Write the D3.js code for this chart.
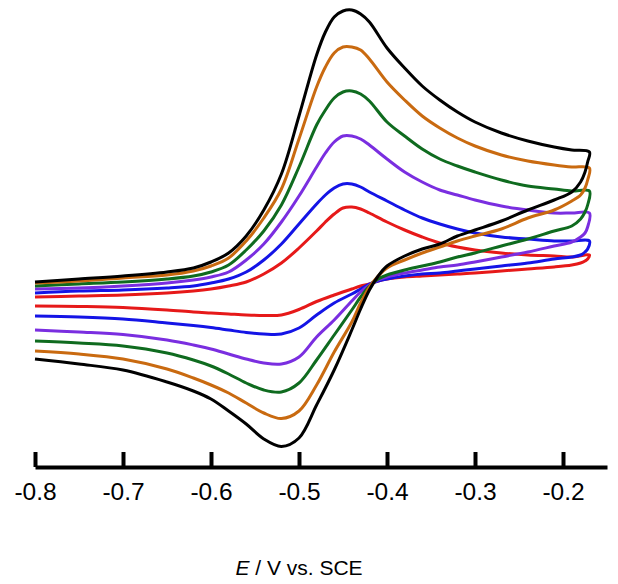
<!DOCTYPE html>
<html>
<head>
<meta charset="utf-8">
<script src="https://cdn.jsdelivr.net/npm/d3@7"></script>
<style>
  body { margin: 0; background: #fff; }
  svg { display: block; }
  .tick text { font-family: "Liberation Sans", Arial, sans-serif; }
</style>
</head>
<body>
<div id="chart"></div>
<script>
// cyclic voltammograms, six scan rates (no current axis shown)

var svgWidth = 618;
var svgHeight = 584;

// potential grid, forward scan (V vs SCE)
var eForward = [-0.80, -0.75, -0.70, -0.65, -0.62, -0.60, -0.58, -0.56, -0.54, -0.52,
  -0.50, -0.48, -0.47, -0.46, -0.45, -0.44, -0.43, -0.42, -0.40, -0.38,
  -0.36, -0.34, -0.32, -0.30, -0.27, -0.24, -0.21, -0.19, -0.17];

// potential grid, reverse scan
var eReverse = [-0.172, -0.175, -0.18, -0.19, -0.21, -0.24, -0.27, -0.30, -0.32, -0.34,
  -0.36, -0.38, -0.40, -0.41, -0.42, -0.43, -0.44, -0.46, -0.48, -0.50,
  -0.52, -0.54, -0.56, -0.58, -0.60, -0.62, -0.65, -0.70, -0.75, -0.80];

// currents (arbitrary units), forward scan
var redFwd = [-1.0, -0.9, -0.8, -0.6, -0.4, -0.2, 0.1, 0.5, 1.3, 2.4, 3.9, 5.6, 6.5, 7.3, 7.9, 8.0, 7.8, 7.4, 6.5, 5.7, 5.0, 4.4, 4.0, 3.7, 3.4, 3.2, 3.1, 3.0, 3.2];
var blueFwd = [-0.6, -0.4, -0.3, -0.1, 0.1, 0.4, 0.8, 1.5, 2.7, 4.3, 6.3, 8.3, 9.2, 9.9, 10.3, 10.3, 10.0, 9.5, 8.6, 7.7, 6.9, 6.3, 5.8, 5.4, 5.0, 4.8, 4.6, 4.6, 4.6];
var purpleFwd = [-0.2, -0.1, 0.1, 0.4, 0.7, 1.0, 1.5, 2.7, 4.3, 6.5, 9.1, 12.0, 13.4, 14.5, 15.1, 15.1, 14.8, 14.2, 12.8, 11.5, 10.5, 9.7, 9.2, 8.7, 8.1, 7.7, 7.4, 7.4, 7.4];
var greenFwd = [0.1, 0.3, 0.5, 0.8, 1.1, 1.5, 2.2, 3.7, 5.6, 8.2, 12.0, 16.2, 17.7, 18.9, 19.5, 19.6, 19.3, 18.6, 16.5, 15.1, 13.8, 12.8, 12.1, 11.5, 10.7, 10.1, 9.8, 9.6, 9.6];
var orangeFwd = [0.4, 0.6, 0.9, 1.2, 1.6, 2.1, 2.9, 4.6, 6.9, 9.8, 14.8, 20.0, 22.0, 23.4, 24.0, 24.0, 23.7, 22.8, 20.5, 18.7, 17.1, 15.9, 14.9, 14.1, 13.2, 12.6, 12.2, 12.0, 11.9];
var blackFwd = [0.5, 0.8, 1.1, 1.5, 1.9, 2.5, 3.4, 5.1, 7.7, 11.3, 17.1, 23.2, 25.5, 27.0, 27.6, 27.7, 27.3, 26.5, 23.9, 21.9, 20.1, 18.7, 17.5, 16.5, 15.4, 14.6, 14.0, 13.7, 13.5];

// currents, reverse scan
var redRev = [2.8, 2.6, 2.4, 2.2, 2.0, 1.8, 1.6, 1.4, 1.3, 1.2, 1.1, 1.0, 0.8, 0.6, 0.3, 0.1, -0.2, -0.8, -1.45, -2.25, -2.8, -2.85, -2.8, -2.7, -2.6, -2.5, -2.3, -2.05, -1.95, -1.9];
var blueRev = [3.8, 3.5, 3.2, 3.0, 2.8, 2.4, 2.1, 1.8, 1.6, 1.4, 1.3, 1.1, 0.8, 0.6, 0.3, -0.2, -0.7, -1.6, -2.8, -4.1, -4.7, -4.7, -4.55, -4.3, -4.05, -3.85, -3.6, -3.2, -3.0, -2.9];
var purpleRev = [6.0, 5.4, 5.0, 4.5, 4.1, 3.5, 3.0, 2.5, 2.2, 2.0, 1.7, 1.4, 1.0, 0.7, 0.2, -0.5, -1.4, -3.3, -5.0, -7.0, -7.7, -7.6, -7.2, -6.7, -6.2, -5.8, -5.3, -4.75, -4.5, -4.3];
var greenRev = [8.2, 7.5, 6.8, 6.1, 5.6, 4.8, 4.1, 3.4, 3.0, 2.5, 2.1, 1.7, 1.2, 0.8, 0.1, -1.0, -2.3, -4.8, -7.3, -9.6, -10.5, -10.3, -9.6, -8.7, -7.9, -7.3, -6.6, -5.9, -5.6, -5.4];
var orangeRev = [10.7, 9.9, 9.2, 8.6, 7.7, 6.9, 5.8, 5.1, 4.6, 4.0, 3.4, 2.7, 1.9, 1.1, 0.0, -1.6, -3.5, -6.5, -9.8, -12.4, -13.15, -12.6, -11.6, -10.6, -9.8, -9.1, -8.2, -7.2, -6.7, -6.4];
var blackRev = [12.5, 11.5, 10.5, 9.5, 8.7, 7.7, 6.6, 5.7, 5.1, 4.3, 3.8, 3.1, 2.1, 1.1, -0.3, -2.2, -4.3, -8.3, -11.8, -15.1, -15.95, -15.2, -13.7, -12.4, -11.2, -10.4, -9.5, -8.3, -7.7, -7.2];

var tickValues = [-0.8, -0.7, -0.6, -0.5, -0.4, -0.3, -0.2];

// drawing order: smallest first, black on top
var curves = [
  { color: "#e61919", fwd: redFwd, rev: redRev },
  { color: "#1414e6", fwd: blueFwd, rev: blueRev },
  { color: "#7a2ee0", fwd: purpleFwd, rev: purpleRev },
  { color: "#0f6b1f", fwd: greenFwd, rev: greenRev },
  { color: "#c96a10", fwd: orangeFwd, rev: orangeRev },
  { color: "#000000", fwd: blackFwd, rev: blackRev }
];

var svg = d3.select("#chart")
  .append("svg")
  .attr("width", svgWidth)
  .attr("height", svgHeight);

var x = d3.scaleLinear()
  .domain([-0.8, -0.15])
  .range([35, 607]);

var y = d3.scaleLinear()
  .domain([-20, 30])
  .range([487, -13]);

var line = d3.line()
  .x(d => x(d[0]))
  .y(d => y(d[1]))
  .curve(d3.curveCatmullRom.alpha(0.5));

curves.forEach(function(c) {
  var pts = eForward.map((e, i) => [e, c.fwd[i]])
    .concat(eReverse.map((e, i) => [e, c.rev[i]]));
  svg.append("path")
    .datum(pts)
    .attr("fill", "none")
    .attr("stroke", c.color)
    .attr("stroke-width", 3)
    .attr("stroke-linejoin", "round")
    .attr("d", line);
});

// x axis, ticks pointing up
var xAxis = svg.append("g")
  .attr("transform", "translate(0,467)")
  .call(d3.axisBottom(x)
    .tickValues(tickValues)
    .tickFormat(d => d.toFixed(1))
    .tickSizeInner(-15)
    .tickSizeOuter(0)
    .tickPadding(16));

xAxis.select(".domain").attr("stroke-width", 4);
xAxis.selectAll(".tick line").attr("stroke-width", 4);
xAxis.selectAll(".tick text")
  .attr("font-size", 24.5)
  .attr("fill", "#000");

var title = svg.append("text")
  .attr("x", x(-0.5))
  .attr("y", 575)
  .attr("text-anchor", "middle")
  .attr("font-family", "Liberation Sans, Arial, sans-serif")
  .attr("font-size", 21);
title.append("tspan").attr("font-style", "italic").text("E");
title.append("tspan").text(" / V vs. SCE");
</script>
</body>
</html>
